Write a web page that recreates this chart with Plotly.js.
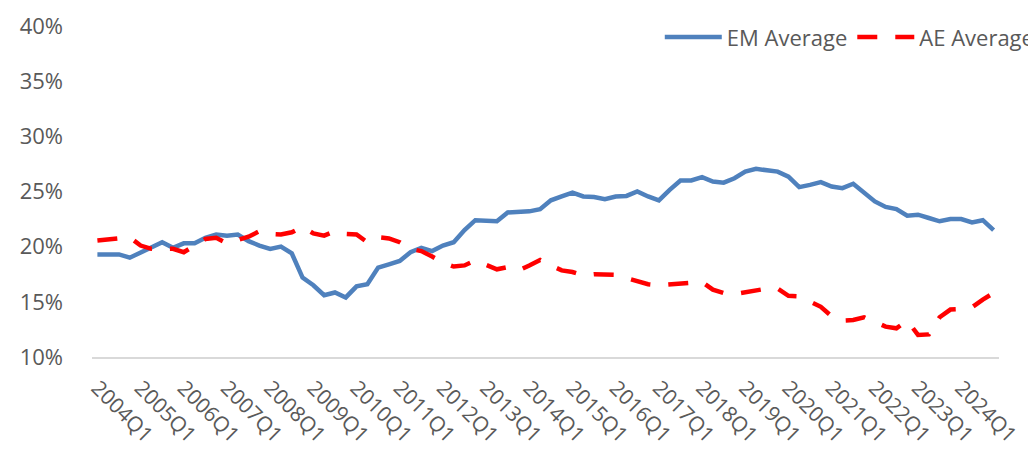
<!DOCTYPE html>
<html>
<head>
<meta charset="utf-8">
<script src="https://cdn.plot.ly/plotly-3.0.1.min.js"></script>
<style>
  html, body { margin: 0; padding: 0; background: #ffffff; }
  #chart { width: 1028px; height: 460px; }
</style>
</head>
<body>
<div id="chart"></div>
<script>
// Quarterly periods, 2004Q1 .. 2024Q4
const years = [2004, 2005, 2006, 2007, 2008, 2009, 2010, 2011, 2012, 2013, 2014,
               2015, 2016, 2017, 2018, 2019, 2020, 2021, 2022, 2023, 2024];
const quarters = ["Q1", "Q2", "Q3", "Q4"];
const periods = [];
years.forEach(y => quarters.forEach(q => periods.push(y + q)));

// Labelled periods on the category axis (first quarter of each year)
const tickPeriods = years.map(y => y + "Q1");

// Emerging-market average, percent
const emAverage = [
  19.3, 19.3, 19.3, 19.0, 19.45, 19.9, 20.4, 19.9,
  20.3, 20.3, 20.8, 21.1, 21.0, 21.1, 20.5, 20.1,
  19.8, 20.0, 19.4, 17.2, 16.5, 15.6, 15.85, 15.4,
  16.4, 16.6, 18.1, 18.4, 18.7, 19.5, 19.9, 19.6,
  20.1, 20.4, 21.5, 22.4, 22.3, 22.3, 23.1, 23.1,
  23.2, 23.4, 24.2, 24.55, 24.9, 24.55, 24.5, 24.3,
  24.55, 24.6, 25.0, 24.55, 24.2, 25.15, 26.0, 26.0,
  26.3, 25.9, 25.8, 26.2, 26.8, 27.05, 26.9, 26.8,
  26.35, 25.4, 25.6, 25.85, 25.45, 25.3, 25.7, 24.9,
  24.1, 23.6, 23.4, 22.8, 22.9, 22.6, 22.3, 22.5,
  22.5, 22.2, 22.4, 21.5
];

// Advanced-economy average, percent
const aeAverage = [
  20.55, 20.65, 20.75, 20.85, 20.1, 19.8, 19.8, 19.8,
  19.5, 20.1, 20.7, 20.8, 20.3, 20.6, 20.9, 21.4,
  21.15, 21.1, 21.3, 21.8, 21.2, 21.0, 21.4, 21.15,
  21.1, 20.4, 20.85, 20.75, 20.4, 19.8, 19.6, 19.1,
  18.55, 18.2, 18.3, 18.75, 18.4, 17.95, 18.15, 17.85,
  18.3, 18.8, 18.3, 17.85, 17.7, 17.4, 17.5, 17.5,
  17.45, 17.15, 16.85, 16.6, 16.5, 16.55, 16.6, 16.7,
  16.8, 16.1, 15.8, 15.7, 15.9, 16.1, 16.2, 16.2,
  15.55, 15.5, 15.0, 14.55, 13.7, 13.3, 13.35, 13.6,
  13.2, 12.75, 12.6, 13.3, 12.0, 12.05, 13.6, 14.3,
  14.35, 14.5, 15.2, 15.8
];

const textColor = "#595959";

const traces = [
  {
    type: "scatter",
    mode: "lines",
    name: "EM Average",
    x: periods,
    y: emAverage,
    line: { color: "#4F81BD", width: 4.5 },
    hoverinfo: "skip"
  },
  {
    type: "scatter",
    mode: "lines",
    name: "AE Average",
    x: periods,
    y: aeAverage,
    line: { color: "#FF0000", width: 4.5, dash: "20px,18px" },
    hoverinfo: "skip"
  }
];

const layout = {
  width: 1028,
  height: 460,
  margin: { l: 92, r: 29, t: 26, b: 103, pad: 0, autoexpand: false },
  paper_bgcolor: "#ffffff",
  plot_bgcolor: "#ffffff",
  font: { family: "Open Sans, sans-serif", color: textColor },
  showlegend: true,
  xaxis: {
    type: "category",
    categoryorder: "array",
    categoryarray: periods,
    range: [-0.5, periods.length - 0.5],
    tickmode: "array",
    tickvals: tickPeriods,
    ticktext: tickPeriods,
    tickangle: 45,
    tickfont: { size: 21, color: textColor },
    ticks: "",
    ticklabelstandoff: 9,
    showline: true,
    linecolor: "#D9D9D9",
    linewidth: 1.5,
    showgrid: false,
    zeroline: false,
    automargin: false,
    fixedrange: true
  },
  yaxis: {
    range: [10, 40],
    tick0: 0,
    dtick: 5,
    ticksuffix: "%",
    tickfont: { size: 22, color: textColor },
    ticks: "",
    ticklabelstandoff: 28,
    showline: false,
    showgrid: false,
    zeroline: false,
    automargin: false,
    fixedrange: true
  },
  legend: {
    orientation: "h",
    x: 0.626,
    xanchor: "left",
    y: 0.966,
    yanchor: "middle",
    font: { size: 22, color: textColor },
    itemwidth: 57,
    bgcolor: "rgba(0,0,0,0)",
    borderwidth: 0
  }
};

Plotly.newPlot("chart", traces, layout, { displayModeBar: false, staticPlot: true });
</script>
</body>
</html>
